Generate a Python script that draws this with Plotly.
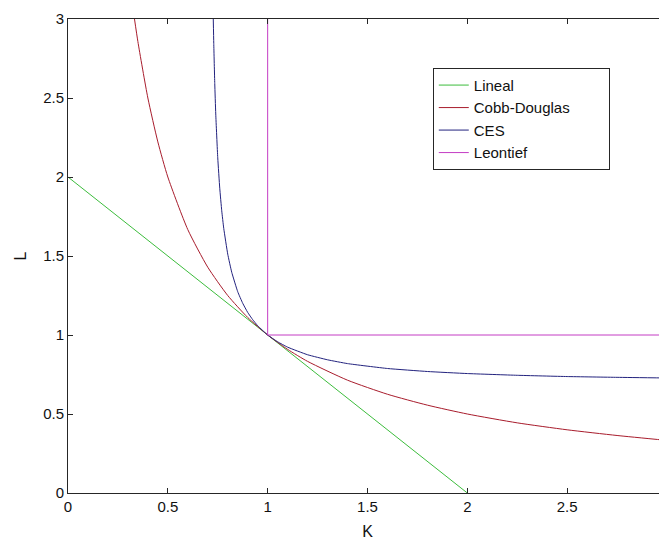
import plotly.graph_objects as go

# Lineal isoquant
lineal_K = [0.0, 2.0]
lineal_L = [2.0, 0.0]

# Cobb-Douglas isoquant
cd_K = [0.333, 0.35, 0.4, 0.45, 0.5, 0.6, 0.7, 0.8, 0.9, 1.0, 1.1, 1.2, 1.4, 1.6, 1.8, 2.0, 2.25, 2.5, 2.75, 3.0]
cd_L = [3.0, 2.857, 2.5, 2.222, 2.0, 1.667, 1.429, 1.25, 1.111, 1.0, 0.909, 0.833, 0.714, 0.625, 0.556, 0.5, 0.444, 0.4, 0.364, 0.333]

# CES isoquant
ces_K = [0.7276, 0.73, 0.735, 0.74, 0.75, 0.76, 0.77, 0.78, 0.8, 0.82, 0.85, 0.875, 0.9, 0.925, 0.95, 1.0, 1.05, 1.1, 1.2, 1.3, 1.4, 1.6, 1.8, 2.0, 2.25, 2.5, 2.75, 3.0]
ces_L = [3.0, 2.846, 2.591, 2.399, 2.121, 1.929, 1.786, 1.675, 1.512, 1.397, 1.274, 1.201, 1.143, 1.097, 1.059, 1.0, 0.957, 0.923, 0.875, 0.843, 0.819, 0.788, 0.769, 0.756, 0.745, 0.737, 0.732, 0.728]

# Leontief isoquant
leo_K = [1.0, 1.0, 3.0]
leo_L = [3.0, 1.0, 1.0]

series_names = ["Lineal", "Cobb-Douglas", "CES", "Leontief"]

x_ticks = [0, 0.5, 1, 1.5, 2, 2.5, 3]
x_ticklabels = ["0", "0.5", "1", "1.5", "2", "2.5", "3"]
y_ticks = [0, 0.5, 1, 1.5, 2, 2.5, 3]
y_ticklabels = ["0", "0.5", "1", "1.5", "2", "2.5", "3"]

FONT = "Liberation Sans, Arial, sans-serif"
PAD = "\u00a0" * 8  # right padding inside the legend box

fig = go.Figure()
fig.add_trace(go.Scatter(x=lineal_K, y=lineal_L, mode="lines", name=series_names[0],
                         line=dict(color="#3cbc3c", width=1)))
fig.add_trace(go.Scatter(x=cd_K, y=cd_L, mode="lines", name=series_names[1] + PAD,
                         line=dict(color="#a81c2c", width=1, shape="spline", smoothing=0.6)))
fig.add_trace(go.Scatter(x=ces_K, y=ces_L, mode="lines", name=series_names[2],
                         line=dict(color="#22227e", width=1, shape="spline", smoothing=0.4)))
fig.add_trace(go.Scatter(x=leo_K, y=leo_L, mode="lines", name=series_names[3],
                         line=dict(color="#c43cc4", width=1)))

axis_common = dict(
    showgrid=False, zeroline=False, showline=True, linecolor="#262626", linewidth=1,
    mirror="ticks", ticks="inside", ticklen=5, tickcolor="#262626",
    tickfont=dict(family=FONT, size=15, color="#111111"),
    automargin=False,
)

fig.update_layout(
    width=659, height=532,
    margin=dict(l=60, r=0, t=11, b=47),
    paper_bgcolor="white", plot_bgcolor="white",
    font=dict(family=FONT, color="#111111"),
    xaxis=dict(range=[0, 3], tickvals=x_ticks, ticktext=x_ticklabels,
               title=dict(text="K", font=dict(family=FONT, size=16), standoff=13),
               **axis_common),
    yaxis=dict(range=[0, 3], tickvals=y_ticks, ticktext=y_ticklabels,
               title=dict(text="L", font=dict(family=FONT, size=16), standoff=12),
               **axis_common),
    legend=dict(x=0.609, y=0.897, xanchor="left", yanchor="top",
                bgcolor="white", bordercolor="#262626", borderwidth=1,
                font=dict(family=FONT, size=15, color="#111111"),
                itemwidth=30),
    showlegend=True,
)

fig.write_html("out.html")
